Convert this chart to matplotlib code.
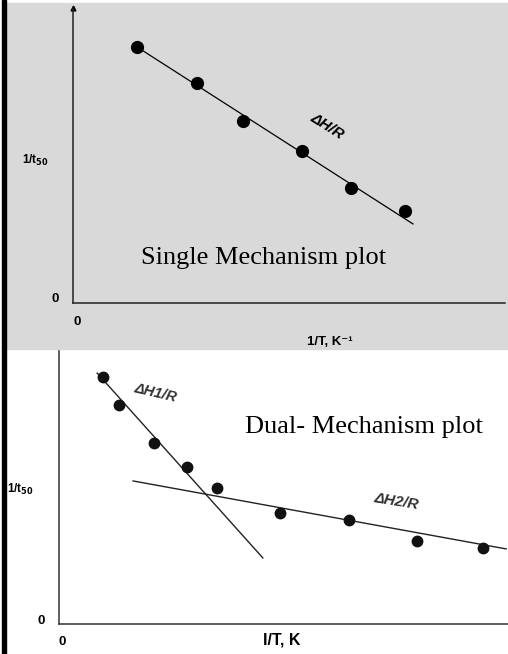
import numpy as np
import matplotlib.pyplot as plt
from matplotlib.patches import Rectangle

W, H = 508, 654

# single mechanism plot (1/T vs 1/t50, arbitrary units)
single_x = [0.148, 0.287, 0.394, 0.530, 0.644, 0.769]
single_y = [0.868, 0.746, 0.617, 0.515, 0.390, 0.312]
single_line_x = [0.148, 0.787]
single_line_y = [0.868, 0.268]

# dual mechanism plot
dual_x = [0.098, 0.134, 0.212, 0.285, 0.352, 0.492, 0.646, 0.797, 0.944]
dual_y = [0.905, 0.802, 0.663, 0.575, 0.498, 0.407, 0.381, 0.304, 0.278]
line1_x = [0.085, 0.454]
line1_y = [0.919, 0.242]
line2_x = [0.165, 0.996]
line2_y = [0.524, 0.275]

SANS = ['Liberation Sans', 'DejaVu Sans']
SERIF = ['Liberation Serif', 'DejaVu Serif']


def px_axes(fig, left, top, right, bottom):
    """Add axes given pixel edges (origin top-left)"""
    return fig.add_axes([left / W, 1 - bottom / H, (right - left) / W, (bottom - top) / H])


def ftext(fig, x, y, s, **kw):
    fig.text(x / W, 1 - y / H, s, ha='center', va='center', **kw)


def style_axes(ax, color):
    ax.set_xlim(0, 1)
    ax.set_ylim(0, 1)
    ax.patch.set_alpha(0)
    for side in ['top', 'right']:
        ax.spines[side].set_visible(False)
    for side in ['left', 'bottom']:
        ax.spines[side].set_color(color)
        ax.spines[side].set_linewidth(1.1)
    ax.set_xticks([])
    ax.set_yticks([])


fig = plt.figure(figsize=(W / 100, H / 100), dpi=100)
fig.patch.set_facecolor('white')
fig.patches.append(Rectangle((5 / W, 1 - 349 / H), 503 / W, 346 / H,
                             transform=fig.transFigure, color='#d9d9d9', zorder=-1))
fig.patches.append(Rectangle((2 / W, 0), 4 / W, 1,
                             transform=fig.transFigure, color='black', zorder=5))

# top panel
ax1 = px_axes(fig, 73, 8, 505, 303)
style_axes(ax1, '#222222')
ax1.plot(single_line_x, single_line_y, color='black', lw=0.9)
ax1.plot(single_x, single_y, 'o', color='black', ms=8.5)
ax1.plot(0, 1, '^', color='black', ms=3.5, transform=ax1.transAxes, clip_on=False)

ftext(fig, 35, 160, r'1/t$_{\mathbf{50}}$', family=SANS, fontsize=8.5, fontweight='bold')
ftext(fig, 55, 299, '0', family=SANS, fontsize=9.5, fontweight='bold')
ftext(fig, 77, 322, '0', family=SANS, fontsize=9.5, fontweight='bold')
ftext(fig, 330, 342, '1/T, K⁻¹', family=SANS, fontsize=9.5, fontweight='bold')
ftext(fig, 327, 126, 'ΔH/R', family=SANS, fontsize=11, style='italic',
      fontweight='bold', rotation=-32)
ftext(fig, 264, 258, 'Single Mechanism plot', family=SERIF, fontsize=19)

# bottom panel
ax2 = px_axes(fig, 59, 351, 508, 624)
style_axes(ax2, '#333333')
ax2.plot(line1_x, line1_y, color='#222222', lw=1.0)
ax2.plot(line2_x, line2_y, color='#222222', lw=1.0)
ax2.plot(dual_x, dual_y, 'o', color='#111111', ms=7.5)

ftext(fig, 20, 489, r'1/t$_{\mathbf{50}}$', family=SANS, fontsize=8.5, fontweight='bold')
ftext(fig, 41, 621, '0', family=SANS, fontsize=9.5, fontweight='bold')
ftext(fig, 62, 642, '0', family=SANS, fontsize=9.5, fontweight='bold')
ftext(fig, 282, 640, 'I/T, K', family=SANS, fontsize=11.5, fontweight='bold')
ftext(fig, 155, 393, 'ΔH1/R', family=SANS, fontsize=10.5, style='italic',
      fontweight='bold', color='#333333', rotation=-13)
ftext(fig, 396, 502, 'ΔH2/R', family=SANS, fontsize=11, style='italic',
      fontweight='bold', color='#333333', rotation=-9)
ftext(fig, 364, 427, 'Dual- Mechanism plot', family=SERIF, fontsize=19)

fig.savefig('out.png', dpi=100)
